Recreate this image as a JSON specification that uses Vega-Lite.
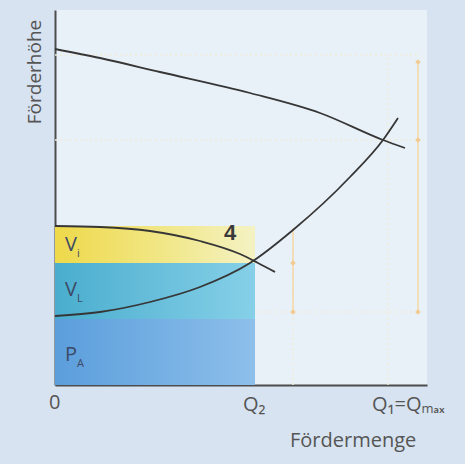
{
  "$schema": "https://vega.github.io/schema/vega-lite/v6.json",
  "width": 372,
  "height": 375,
  "autosize": "none",
  "padding": {"left": 55, "top": 10, "right": 38, "bottom": 79},
  "background": "#d7e3f0",
  "config": {
    "view": {"fill": "#e9f1f8", "stroke": null},
    "text": {"font": "Open Sans, Lato, sans-serif"}
  },
  "datasets": {
    "bands": [
      {"band": "PA", "x0": 0, "x1": 200, "y0": 0, "y1": 66},
      {"band": "VL", "x0": 0, "x1": 200, "y0": 66, "y1": 122},
      {"band": "Vi", "x0": 0, "x1": 200, "y0": 122, "y1": 159}
    ],
    "curves": [
      {"curve": "Pumpe", "x": 0, "y": 336},
      {"curve": "Pumpe", "x": 45, "y": 327},
      {"curve": "Pumpe", "x": 105, "y": 313},
      {"curve": "Pumpe", "x": 195, "y": 292},
      {"curve": "Pumpe", "x": 265, "y": 272},
      {"curve": "Pumpe", "x": 328, "y": 245},
      {"curve": "Pumpe", "x": 350, "y": 237},
      {"curve": "Anlage", "x": 0, "y": 69},
      {"curve": "Anlage", "x": 45, "y": 73},
      {"curve": "Anlage", "x": 95, "y": 83},
      {"curve": "Anlage", "x": 145, "y": 98},
      {"curve": "Anlage", "x": 195, "y": 122},
      {"curve": "Anlage", "x": 238, "y": 155},
      {"curve": "Anlage", "x": 295, "y": 208},
      {"curve": "Anlage", "x": 328, "y": 245},
      {"curve": "Anlage", "x": 343, "y": 267},
      {"curve": "4", "x": 0, "y": 159},
      {"curve": "4", "x": 45, "y": 158},
      {"curve": "4", "x": 95, "y": 154},
      {"curve": "4", "x": 145, "y": 144},
      {"curve": "4", "x": 185, "y": 131},
      {"curve": "4", "x": 203, "y": 122},
      {"curve": "4", "x": 220, "y": 113}
    ],
    "guides": [
      {"x": 0, "x2": 365, "y": 330, "y2": 330},
      {"x": 0, "x2": 365, "y": 245, "y2": 245},
      {"x": 200, "x2": 365, "y": 73, "y2": 73},
      {"x": 333, "x2": 333, "y": 0, "y2": 330},
      {"x": 238, "x2": 238, "y": 0, "y2": 160}
    ],
    "dims": [
      {"x": 363, "x2": 363, "y": 73, "y2": 323},
      {"x": 238, "x2": 238, "y": 73, "y2": 157}
    ],
    "arrows": [
      {"x": 363, "y": 323}, {"x": 363, "y": 245}, {"x": 363, "y": 73},
      {"x": 238, "y": 122}, {"x": 238, "y": 73}
    ],
    "labels": [
      {"text": "V", "sub": "i", "x": 10, "y": 140},
      {"text": "V", "sub": "L", "x": 10, "y": 95},
      {"text": "P", "sub": "A", "x": 10, "y": 30}
    ]
  },
  "encoding": {
    "x": {"type": "quantitative", "scale": {"domain": [0, 372], "nice": false, "zero": false},
      "axis": {"labels": false, "ticks": false, "grid": false, "title": null, "domainColor": "#4d4d4d", "domainWidth": 2}},
    "y": {"type": "quantitative", "scale": {"domain": [0, 375], "nice": false, "zero": false},
      "axis": {"labels": false, "ticks": false, "grid": false, "title": null, "domainColor": "#4d4d4d", "domainWidth": 2}}
  },
  "layer": [
    {
      "data": {"name": "bands"},
      "transform": [{"filter": "datum.band == 'PA'"}],
      "mark": {"type": "rect", "color": {"gradient": "linear", "x1": 0, "x2": 1, "y1": 0, "y2": 0, "stops": [{"offset": 0, "color": "#5b9edc"}, {"offset": 1, "color": "#8dbfea"}]}},
      "encoding": {"x": {"field": "x0"}, "x2": {"field": "x1"}, "y": {"field": "y0"}, "y2": {"field": "y1"}}
    },
    {
      "data": {"name": "bands"},
      "transform": [{"filter": "datum.band == 'VL'"}],
      "mark": {"type": "rect", "color": {"gradient": "linear", "x1": 0, "x2": 1, "y1": 0, "y2": 0, "stops": [{"offset": 0, "color": "#4aadce"}, {"offset": 1, "color": "#86d0e8"}]}},
      "encoding": {"x": {"field": "x0"}, "x2": {"field": "x1"}, "y": {"field": "y0"}, "y2": {"field": "y1"}}
    },
    {
      "data": {"name": "bands"},
      "transform": [{"filter": "datum.band == 'Vi'"}],
      "mark": {"type": "rect", "color": {"gradient": "linear", "x1": 0, "x2": 1, "y1": 0, "y2": 0, "stops": [{"offset": 0, "color": "#eed94a"}, {"offset": 0.55, "color": "#f1e788"}, {"offset": 1, "color": "#f4f2c4"}]}},
      "encoding": {"x": {"field": "x0"}, "x2": {"field": "x1"}, "y": {"field": "y0"}, "y2": {"field": "y1"}}
    },
    {
      "data": {"name": "guides"},
      "mark": {"type": "rule", "color": "#f1ecd8", "strokeWidth": 1.5, "strokeDash": [2, 3]},
      "encoding": {"x": {"field": "x"}, "x2": {"field": "x2"}, "y": {"field": "y"}, "y2": {"field": "y2"}}
    },
    {
      "data": {"name": "dims"},
      "mark": {"type": "rule", "color": "#f6d7a8", "strokeWidth": 1.5},
      "encoding": {"x": {"field": "x"}, "x2": {"field": "x2"}, "y": {"field": "y"}, "y2": {"field": "y2"}}
    },
    {
      "data": {"name": "arrows"},
      "mark": {"type": "point", "shape": "diamond", "filled": true, "color": "#f2c68a", "size": 30, "opacity": 0.9},
      "encoding": {"x": {"field": "x"}, "y": {"field": "y"}}
    },
    {
      "data": {"name": "curves"},
      "mark": {"type": "line", "color": "#363636", "strokeWidth": 1.8, "interpolate": "monotone"},
      "encoding": {"x": {"field": "x"}, "y": {"field": "y"}, "detail": {"field": "curve"}}
    },
    {
      "data": {"name": "labels"},
      "mark": {"type": "text", "align": "left", "baseline": "middle", "fontSize": 20, "color": "#3d4a66"},
      "encoding": {"x": {"field": "x"}, "y": {"field": "y"}, "text": {"field": "text"}}
    },
    {
      "data": {"name": "labels"},
      "mark": {"type": "text", "align": "left", "baseline": "middle", "fontSize": 11, "color": "#3d4a66", "dx": 12, "dy": 9},
      "encoding": {"x": {"field": "x"}, "y": {"field": "y"}, "text": {"field": "sub"}}
    },
    {
      "data": {"values": [
        {"text": "4", "x": 175, "y": 152}
      ]},
      "mark": {"type": "text", "align": "center", "baseline": "middle", "fontSize": 22, "fontWeight": "bold", "color": "#3a3a3a", "font": "Liberation Sans, sans-serif"},
      "encoding": {"x": {"field": "x"}, "y": {"field": "y"}, "text": {"field": "text"}}
    },
    {
      "data": {"values": [
        {"text": "0", "x": -6, "y": -18},
        {"text": "Q₂", "x": 188, "y": -20},
        {"text": "Q₁=Qₘₐₓ", "x": 317, "y": -20},
        {"text": "Fördermenge", "x": 235, "y": -56}
      ]},
      "mark": {"type": "text", "align": "left", "baseline": "middle", "fontSize": 20, "color": "#555555"},
      "encoding": {"x": {"field": "x"}, "y": {"field": "y"}, "text": {"field": "text"}}
    },
    {
      "data": {"values": [{"text": "Förderhöhe", "x": -20, "y": 313}]},
      "mark": {"type": "text", "align": "center", "baseline": "middle", "fontSize": 19, "angle": 270, "color": "#555555"},
      "encoding": {"x": {"field": "x"}, "y": {"field": "y"}, "text": {"field": "text"}}
    }
  ]
}
